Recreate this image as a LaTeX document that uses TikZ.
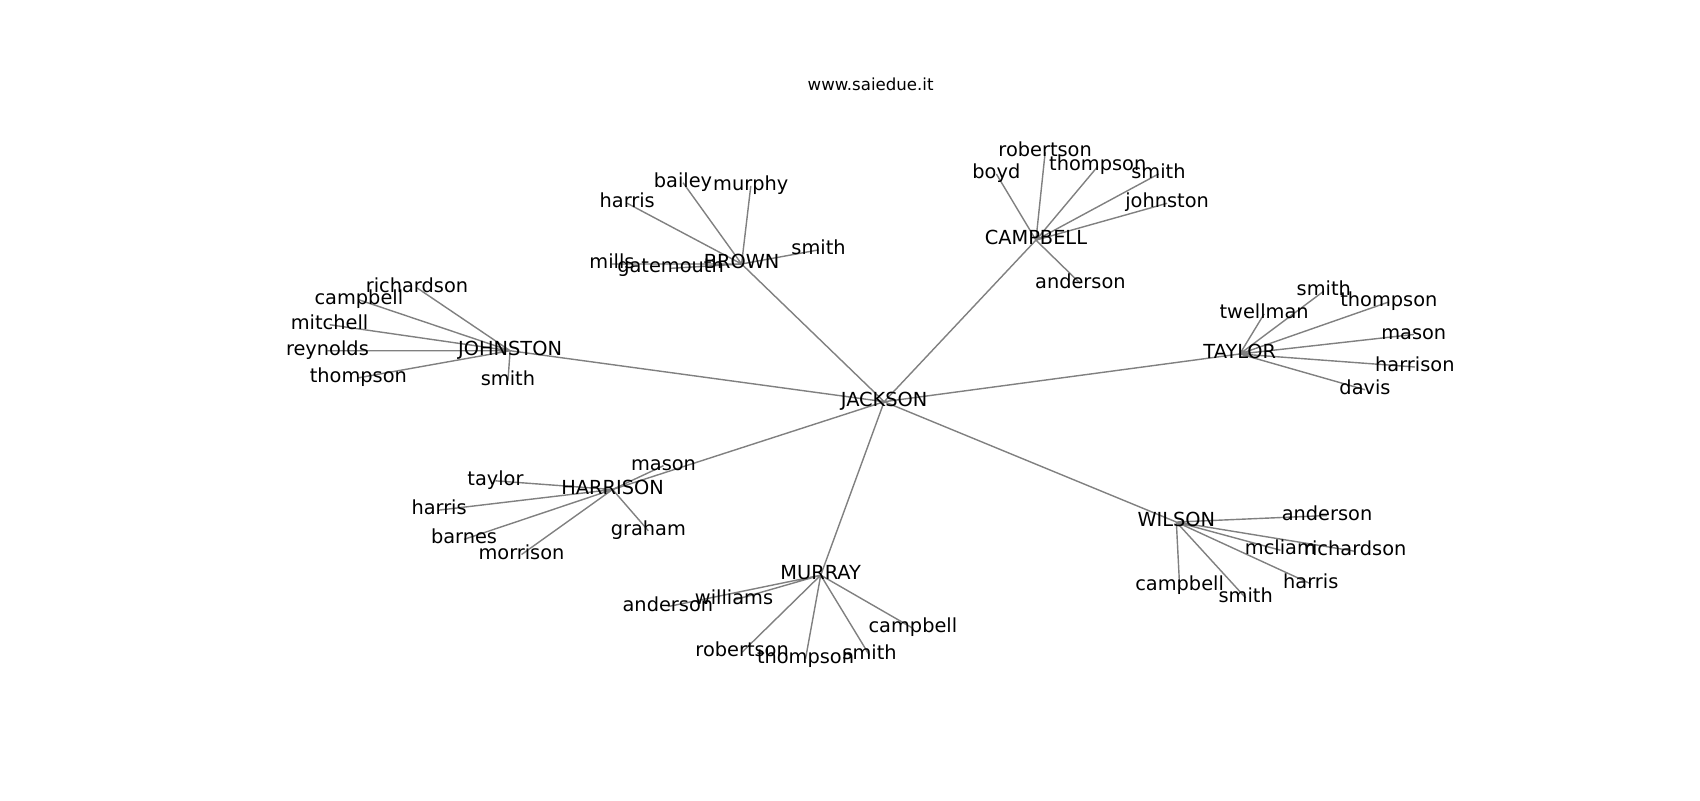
\documentclass[tikz,border=0pt]{standalone}
\usepackage{fontspec}
\setmainfont{DejaVu Sans}
\usetikzlibrary{backgrounds}

\begin{document}
\begin{tikzpicture}[x=0.021684cm, y=-0.021684cm,
            lbl/.style = {inner sep=0pt, text height=0.76em, text depth=0.24em,
                          font=\fontsize{11.02pt}{13pt}\selectfont},
            link/.style = {draw=gray, line width=0.8pt}]

    \useasboundingbox (0,-1.5) rectangle (1568,736.5);
    \node[font=\fontsize{9.45pt}{11pt}\selectfont] (title) at (803,76) {www.saiedue.it};

    % centro
    \node[lbl] (J) at (815.5,369) {JACKSON};

    % BROWN
    \node[lbl] (B)  at (684,242)   {BROWN};
    \node[lbl] (B1) at (578.5,186) {harris};
    \node[lbl] (B2) at (630,167)   {bailey};
    \node[lbl] (B3) at (692.5,170) {murphy};
    \node[lbl] (B4) at (564.5,242) {mills};
    \node[lbl] (B5) at (618.5,246) {gatemouth};
    \node[lbl] (B6) at (755,229)   {smith};

    % CAMPBELL
    \node[lbl] (C)  at (955.5,220)  {CAMPBELL};
    \node[lbl] (C1) at (919,159)    {boyd};
    \node[lbl] (C2) at (964,139)    {robertson};
    \node[lbl] (C3) at (1012.5,152) {thompson};
    \node[lbl] (C4) at (1068.5,159) {smith};
    \node[lbl] (C5) at (1076.5,186) {johnston};
    \node[lbl] (C6) at (996.5,260)  {anderson};

    % JOHNSTON
    \node[lbl] (Jo)  at (470.5,322) {JOHNSTON};
    \node[lbl] (Jo1) at (384.6,264) {richardson};
    \node[lbl] (Jo2) at (331,275)   {campbell};
    \node[lbl] (Jo3) at (304,298)   {mitchell};
    \node[lbl] (Jo4) at (302,322)   {reynolds};
    \node[lbl] (Jo5) at (330.5,347) {thompson};
    \node[lbl] (Jo6) at (468.5,350) {smith};

    % TAYLOR
    \node[lbl] (T)  at (1143.5,325) {TAYLOR};
    \node[lbl] (T1) at (1166,288)   {twellman};
    \node[lbl] (T2) at (1221,267)   {smith};
    \node[lbl] (T3) at (1281,277)   {thompson};
    \node[lbl] (T4) at (1304,307)   {mason};
    \node[lbl] (T5) at (1305,337)   {harrison};
    \node[lbl] (T6) at (1259,358)   {davis};

    % HARRISON
    \node[lbl] (H)  at (565,450) {HARRISON};
    \node[lbl] (H1) at (612,428) {mason};
    \node[lbl] (H2) at (457,442) {taylor};
    \node[lbl] (H3) at (405,469) {harris};
    \node[lbl] (H4) at (428,496) {barnes};
    \node[lbl] (H5) at (481,510) {morrison};
    \node[lbl] (H6) at (598,488) {graham};

    % WILSON
    \node[lbl] (W)  at (1085,480) {WILSON};
    \node[lbl] (W1) at (1224,474) {anderson};
    \node[lbl] (W2) at (1181,506) {mcliam};
    \node[lbl] (W3) at (1250,507) {richardson};
    \node[lbl] (W4) at (1209,537) {harris};
    \node[lbl] (W5) at (1149,550) {smith};
    \node[lbl] (W6) at (1088,539) {campbell};

    % MURRAY
    \node[lbl] (M)  at (757,529)   {MURRAY};
    \node[lbl] (M1) at (677,552)   {williams};
    \node[lbl] (M2) at (616,558)   {anderson};
    \node[lbl] (M3) at (842,578)   {campbell};
    \node[lbl] (M4) at (684.5,600) {robertson};
    \node[lbl] (M5) at (743,606)   {thompson};
    \node[lbl] (M6) at (802,603)   {smith};

    % archi sotto le etichette
    \begin{scope}[on background layer]
        \draw[link] (J.center) -- (B.center) (J.center) -- (C.center) (J.center) -- (Jo.center)
                    (J.center) -- (T.center) (J.center) -- (H.center) (J.center) -- (W.center)
                    (J.center) -- (M.center);
        \draw[link] (B.center) -- (B1.center) (B.center) -- (B2.center) (B.center) -- (B3.center)
                    (B.center) -- (B4.center) (B.center) -- (B5.center) (B.center) -- (B6.center);
        \draw[link] (C.center) -- (C1.center) (C.center) -- (C2.center) (C.center) -- (C3.center)
                    (C.center) -- (C4.center) (C.center) -- (C5.center) (C.center) -- (C6.center);
        \draw[link] (Jo.center) -- (Jo1.center) (Jo.center) -- (Jo2.center) (Jo.center) -- (Jo3.center)
                    (Jo.center) -- (Jo4.center) (Jo.center) -- (Jo5.center) (Jo.center) -- (Jo6.center);
        \draw[link] (T.center) -- (T1.center) (T.center) -- (T2.center) (T.center) -- (T3.center)
                    (T.center) -- (T4.center) (T.center) -- (T5.center) (T.center) -- (T6.center);
        \draw[link] (H.center) -- (H1.center) (H.center) -- (H2.center) (H.center) -- (H3.center)
                    (H.center) -- (H4.center) (H.center) -- (H5.center) (H.center) -- (H6.center);
        \draw[link] (W.center) -- (W1.center) (W.center) -- (W2.center) (W.center) -- (W3.center)
                    (W.center) -- (W4.center) (W.center) -- (W5.center) (W.center) -- (W6.center);
        \draw[link] (M.center) -- (M1.center) (M.center) -- (M2.center) (M.center) -- (M3.center)
                    (M.center) -- (M4.center) (M.center) -- (M5.center) (M.center) -- (M6.center);
    \end{scope}
\end{tikzpicture}
\end{document}
